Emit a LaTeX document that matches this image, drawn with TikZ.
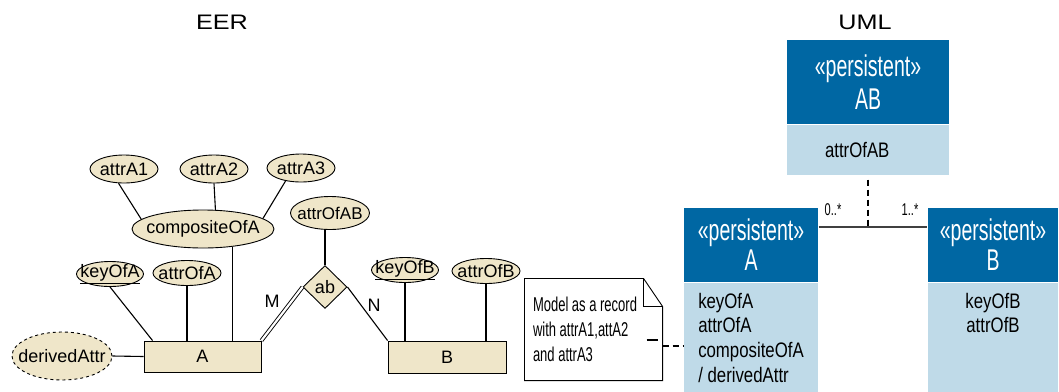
\documentclass[tikz,border=0pt]{standalone}
\usepackage{fontspec}
\setmainfont{Liberation Sans}
\newfontfamily\titlefont[FakeStretch=1.2]{Liberation Sans}
\newfontfamily\umlhead[FakeStretch=0.65]{Liberation Sans}
\newfontfamily\umlfont[FakeStretch=0.8]{Liberation Sans}
\usepackage{xcolor}
\usepackage{tikz}
\usetikzlibrary{shapes.geometric}
\usetikzlibrary{calc}
\usetikzlibrary{positioning}
\definecolor{erfill}{HTML}{EFE6C9}
\definecolor{umldark}{HTML}{0067A3}
\definecolor{umllight}{HTML}{BFDAE8}

\begin{document}
\begin{tikzpicture}[x=1pt,y=-1pt,line width=1.1pt,
	every node/.style={font=\fontsize{18}{20}\selectfont},
	attr/.style={ellipse,draw,line width=0.9pt,fill=erfill,inner sep=0pt,minimum width=68pt,minimum height=25pt,label=center:#1},
	entity/.style={rectangle,draw,line width=0.9pt,fill=erfill,minimum width=117pt,minimum height=31pt},
	relship/.style={diamond,draw,line width=0.9pt,fill=erfill,inner sep=0pt,minimum width=44pt,minimum height=43pt},
	umltitle/.style={fill=umldark,text=white,align=center,inner sep=0pt,font=\umlhead\fontsize{30}{30}\selectfont},
	umlattr/.style={fill=umllight,inner sep=0pt,font=\umlfont\fontsize{21}{24.7}\selectfont},
	mult/.style={font=\umlhead\fontsize{17}{17}\selectfont}]
	\useasboundingbox (0,0) rectangle (1059,391);
	
	\node[font=\titlefont\fontsize{21}{21}\selectfont] (eer) at (222,22) {EER};
	\node[font=\titlefont\fontsize{21}{21}\selectfont] (uml) at (865,22) {UML};
	
	% EER side
	\node[attr=attrA1,minimum height=28pt] (a1) at (124,169) {};
	\node[attr=attrA2,minimum height=28pt] (a2) at (214,169) {};
	\node[attr=attrA3,minimum height=28pt] (a3) at (301,168) {};
	\node[attr=compositeOfA,minimum width=142pt,minimum height=38pt] (comp) at (203,229) {};
	\node[attr={\underline{keyOfA}},minimum width=67pt] (kA) at (110,274) {};
	\node[attr=attrOfA] (oA) at (187,273) {};
	\node[attr=derivedAttr,dashed,minimum width=100pt,minimum height=48pt] (dA) at (62,356) {};
	\node[entity] (A) at (202.5,356.5) {A};
	\node[relship] (ab) at (325,287) {ab};
	\node[attr={\fontsize{17}{20}\selectfont attrOfAB},minimum width=79pt,minimum height=33pt] (oAB) at (330,213) {};
	\node[entity,minimum width=118pt,minimum height=32pt] (B) at (447,357) {B};
	\node[attr={\underline{keyOfB}},minimum width=67pt] (kB) at (405,270) {};
	\node[attr=attrOfB] (oB) at (486,271) {};
	\node (m) at (272,301) {M};
	\node (n) at (374,305) {N};
	
	\draw (a1.249) -- (comp.171);
	\draw (a2.south) -- (comp.57);
	\draw (a3.220) -- (comp.10);
	\draw (kA.south) -- ([xshift=9pt]A.north west);
	\draw (oA.south) -- (oA.south |- A.north);
	\draw (comp.-31) -- (comp.-31 |- A.north);
	\draw (dA.east) -- (A.west);
	\draw (ab.north) -- (ab.north |- oAB.south);
	\draw[double,line width=0.9pt,double distance=2.2pt] (A.north east) -- (ab.west);
	\draw (ab.east) -- (B.north west);
	\draw (kB.south) -- (kB.south |- B.north);
	\draw (oB.south) -- (oB.south |- B.north);
	
	% note
	\node[minimum width=137pt,minimum height=101pt,inner sep=8pt,text width=121pt,align=left,font=\umlhead\fontsize{20}{25}\selectfont] (note) at (593.5,329.5) {\spaceskip=3.6pt\xspaceskip=3.6pt Model as a record\\with attrA1,attA2\\and attrA3};
	\draw[line width=0.9pt] (note.north west) -- ([xshift=-19pt]note.north east) -- ([yshift=-28pt]note.north east) -- (note.south east) -- (note.south west) -- cycle;
	\draw[line width=0.9pt] ([xshift=-19pt]note.north east) |- ([yshift=-28pt]note.north east);
	\draw ([shift={(-16,10.5)}]note.east) -- ([shift={(-5,10.5)}]note.east);
	
	% UML side
	\node[umltitle,minimum width=162pt,minimum height=84pt] (uABh) at (868,82) {«persistent»\\[3pt]AB};
	\node[umlattr,minimum width=162pt,minimum height=50pt,inner xsep=38pt,text width=86pt,align=left,below=0pt of uABh] (uABa) {attrOfAB};
	\node[umltitle,minimum width=134pt,minimum height=74pt] (uAh) at (751,245) {«persistent»\\A};
	\node[umlattr,minimum width=134pt,minimum height=109pt,align=left,below=0pt of uAh] (uAa) {keyOfA\\attrOfA\\compositeOfA\\/ derivedAttr};
	\node[umltitle,minimum width=130pt,minimum height=74pt] (uBh) at (993,245) {«persistent»\\B};
	\node[umlattr,minimum width=130pt,minimum height=109pt,align=center,below=0pt of uBh] (uBa) {keyOfB\\attrOfB\\~\\~};
	
	\draw[line width=1.8pt,draw=black!75] ([yshift=18pt]uAh.east) -- ([yshift=18pt]uAh.east -| uBh.west) coordinate[pos=0.5] (assoc);
	\draw[line width=1.8pt,dash pattern=on 6pt off 4pt] ([yshift=-4pt]uABa.south) -- (uABa.south |- assoc);
	\node[mult] (mA) at (833,210) {0..*};
	\node[mult] (mB) at (910,210) {1..*};
	\draw[line width=1.3pt,dash pattern=on 6pt off 4pt] ([yshift=-16.5pt]note.east) -- ([yshift=-16.5pt]note.east -| uAa.west);
\end{tikzpicture}
\end{document}
